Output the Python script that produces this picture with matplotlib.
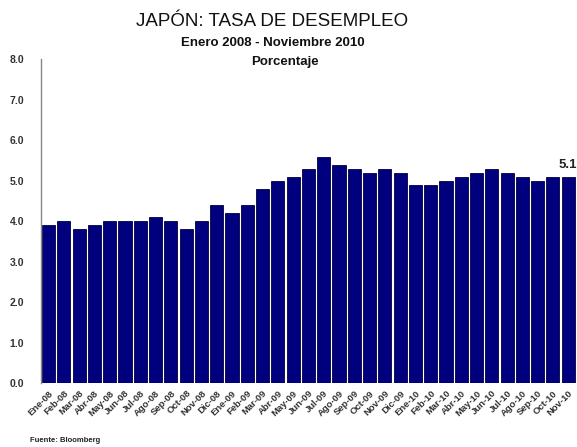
import matplotlib
matplotlib.use("Agg")
import matplotlib.pyplot as plt

plt.rcParams["font.family"] = ["Liberation Sans", "DejaVu Sans"]

months = [
    "Ene-08", "Feb-08", "Mar-08", "Abr-08", "May-08", "Jun-08", "Jul-08",
    "Ago-08", "Sep-08", "Oct-08", "Nov-08", "Dic-08",
    "Ene-09", "Feb-09", "Mar-09", "Abr-09", "May-09", "Jun-09", "Jul-09",
    "Ago-09", "Sep-09", "Oct-09", "Nov-09", "Dic-09",
    "Ene-10", "Feb-10", "Mar-10", "Abr-10", "May-10", "Jun-10", "Jul-10",
    "Ago-10", "Sep-10", "Oct-10", "Nov-10",
]
rate = [
    3.9, 4.0, 3.8, 3.9, 4.0, 4.0, 4.0, 4.1, 4.0, 3.8, 4.0, 4.4,
    4.2, 4.4, 4.8, 5.0, 5.1, 5.3, 5.6, 5.4, 5.3, 5.2, 5.3, 5.2,
    4.9, 4.9, 5.0, 5.1, 5.2, 5.3, 5.2, 5.1, 5.0, 5.1, 5.1,
]
yticks = [0, 1, 2, 3, 4, 5, 6, 7, 8]

fig = plt.figure(figsize=(5.77, 4.47), dpi=100)
ax = fig.add_axes([0.071, 0.143, 0.927, 0.724])

x = range(len(months))
ax.bar(x, rate, width=0.86, color="#00007f", edgecolor="#000040", linewidth=0.6)

ax.set_xlim(-0.5, len(months) - 0.5)
ax.set_ylim(0, 8)
ax.set_yticks(yticks)
ax.set_yticklabels([f"{v:.1f}" for v in yticks], fontsize=7.5,
                   fontweight="bold", color="#333333")
ax.set_xticks(list(x))
ax.set_xticklabels(months, rotation=45, ha="right", rotation_mode="anchor",
                   fontsize=6.8, fontweight="bold", color="#333333")
ax.tick_params(axis="y", length=0, pad=12)
ax.tick_params(axis="x", length=0, pad=4)

for side in ("top", "right", "bottom"):
    ax.spines[side].set_visible(False)
ax.spines["left"].set_color("#888888")
ax.spines["left"].set_linewidth(1.0)

# last value label
ax.text(len(months) - 1, rate[-1] + 0.15, f"{rate[-1]:.1f}", ha="center",
        va="bottom", fontsize=9.5, fontweight="bold", color="#222222")

fig.text(0.472, 0.951, "JAPÓN: TASA DE DESEMPLEO", ha="center", va="center",
         fontsize=13.5, color="#111111")
fig.text(0.472, 0.904, "Enero 2008 - Noviembre 2010", ha="center",
         va="center", fontsize=9.5, fontweight="bold", color="#111111")
fig.text(0.494, 0.861, "Porcentaje", ha="center", va="center",
         fontsize=9.5, fontweight="bold", color="#111111")
fig.text(0.052, 0.015, "Fuente: Bloomberg", ha="left", va="center",
         fontsize=5.5, fontweight="bold", color="#222222")

fig.savefig("out.png", dpi=100)
